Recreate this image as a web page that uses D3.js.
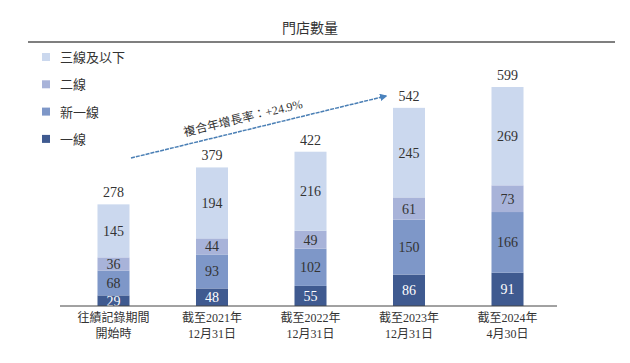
<!DOCTYPE html>
<html>
<head>
<meta charset="utf-8">
<script src="https://cdn.jsdelivr.net/npm/d3@7"></script>
<style>
  body { margin: 0; background: #fff; }
  svg text { font-family: "Liberation Serif", "Noto Sans CJK TC", serif; fill: #333; }
</style>
</head>
<body>
<div id="chart"></div>
<script>
// data
var categories = [
    ["往績記錄期間", "開始時"],
    ["截至2021年", "12月31日"],
    ["截至2022年", "12月31日"],
    ["截至2023年", "12月31日"],
    ["截至2024年", "4月30日"]
];
var seriesNames = ["一線", "新一線", "二線", "三線及以下"];
var tier1 = [29, 48, 55, 86, 91];
var newTier1 = [68, 93, 102, 150, 166];
var tier2 = [36, 44, 49, 61, 73];
var tier3 = [145, 194, 216, 245, 269];
var totals = [278, 379, 422, 542, 599];
var cagrLabel = "複合年增長率：+24.9%";

var colors = ["#3f5a90", "#7e97c8", "#a8b3d9", "#cbd8ee"];

var width = 630, height = 363;
var baseY = 306;

var svg = d3.select("#chart").append("svg")
    .attr("width", width)
    .attr("height", height);

// title
svg.append("text")
    .attr("x", 310).attr("y", 33)
    .attr("text-anchor", "middle")
    .style("font-size", "14px")
    .text("門店數量");

svg.append("line")
    .attr("x1", 28).attr("x2", 615)
    .attr("y1", 42).attr("y2", 42)
    .attr("stroke", "#555").attr("stroke-width", 1.5);

// scales
var x = d3.scaleBand()
    .domain(d3.range(categories.length))
    .range([64, 557])
    .paddingInner(0.675)
    .paddingOuter(0.34);

var y = d3.scaleLinear()
    .domain([0, 599])
    .range([baseY, 87]);

var rows = categories.map(function(c, i) {
    return { i: i, "一線": tier1[i], "新一線": newTier1[i], "二線": tier2[i], "三線及以下": tier3[i] };
});

var stack = d3.stack().keys(seriesNames)(rows);

var layers = svg.selectAll(".layer")
    .data(stack)
    .enter().append("g")
    .attr("class", "layer");

layers.each(function(s, k) {
    var g = d3.select(this);
    g.selectAll("rect")
        .data(s)
        .enter().append("rect")
        .attr("x", function(d) { return x(d.data.i); })
        .attr("y", function(d) { return y(d[1]); })
        .attr("width", x.bandwidth())
        .attr("height", function(d) { return y(d[0]) - y(d[1]); })
        .attr("fill", colors[k]);
    g.selectAll("text")
        .data(s)
        .enter().append("text")
        .attr("x", function(d) { return x(d.data.i) + x.bandwidth() / 2; })
        .attr("y", function(d) { return (y(d[0]) + y(d[1])) / 2 + 5; })
        .attr("text-anchor", "middle")
        .style("font-size", "14px")
        .style("fill", k === 0 ? "#fff" : "#333")
        .text(function(d) { return d[1] - d[0]; });
});

// totals
svg.selectAll(".total")
    .data(totals)
    .enter().append("text")
    .attr("class", "total")
    .attr("x", function(d, i) { return x(i) + x.bandwidth() / 2; })
    .attr("y", function(d) { return y(d) - 7; })
    .attr("text-anchor", "middle")
    .style("font-size", "14px")
    .text(function(d) { return d; });

// axis
svg.append("line")
    .attr("x1", 60).attr("x2", 557)
    .attr("y1", baseY).attr("y2", baseY)
    .attr("stroke", "#444").attr("stroke-width", 1);

var xl = svg.selectAll(".xlab")
    .data(categories)
    .enter().append("text")
    .attr("class", "xlab")
    .attr("text-anchor", "middle")
    .style("font-size", "12px");
xl.each(function(d, i) {
    var t = d3.select(this);
    d.forEach(function(line, j) {
        t.append("tspan")
            .attr("x", x(i) + x.bandwidth() / 2)
            .attr("y", 322 + j * 16)
            .text(line);
    });
});

// legend
var legend = svg.selectAll(".legend")
    .data(seriesNames.slice().reverse())
    .enter().append("g")
    .attr("class", "legend")
    .attr("transform", function(d, i) { return "translate(42," + (57 + i * 27.3) + ")"; });
legend.append("rect")
    .attr("x", 0).attr("y", -4)
    .attr("width", 8).attr("height", 8)
    .attr("fill", function(d, i) { return colors[3 - i]; });
legend.append("text")
    .attr("x", 18).attr("y", 5)
    .style("font-size", "13px")
    .text(function(d) { return d; });

// CAGR arrow
var defs = svg.append("defs");
defs.append("marker")
    .attr("id", "arrow")
    .attr("viewBox", "0 0 10 10")
    .attr("refX", 8).attr("refY", 5)
    .attr("markerWidth", 5).attr("markerHeight", 5)
    .attr("orient", "auto")
    .append("path")
    .attr("d", "M0,0L10,5L0,10z")
    .attr("fill", "#4a82bd");

var ax1 = 131, ay1 = 158, ax2 = 386, ay2 = 96;
svg.append("line")
    .attr("x1", ax1).attr("y1", ay1)
    .attr("x2", ax2).attr("y2", ay2)
    .attr("stroke", "#4a7fb5")
    .attr("stroke-width", 1.5)
    .attr("stroke-dasharray", "4,1")
    .attr("marker-end", "url(#arrow)");

var ang = Math.atan2(ay2 - ay1, ax2 - ax1) * 180 / Math.PI;
svg.append("text")
    .attr("transform", "translate(244,122) rotate(" + ang + ")")
    .attr("text-anchor", "middle")
    .style("font-size", "12px")
    .text(cagrLabel);
</script>
</body>
</html>
